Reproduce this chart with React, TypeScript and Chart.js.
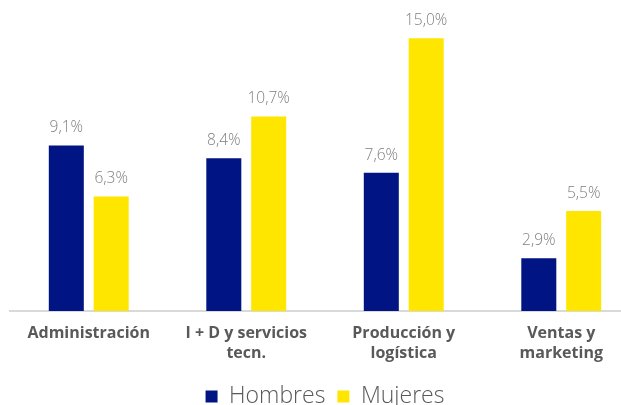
import React, { useEffect, useRef } from "react";
import { Chart, registerables } from "chart.js";

Chart.register(...registerables);

const categories: (string | string[])[] = [
  "Administración",
  ["I + D y servicios", "tecn."],
  ["Producción y", "logística"],
  ["Ventas y", "marketing"],
];
const hombres = [9.1, 8.4, 7.6, 2.9];
const mujeres = [6.3, 10.7, 15.0, 5.5];
const seriesNames = ["Hombres", "Mujeres"];

const FONT = "'Open Sans', 'DejaVu Sans', sans-serif";

const labelPlugin = {
  id: "valueLabels",
  afterDatasetsDraw(chart: any) {
    const ctx = chart.ctx;
    ctx.save();
    ctx.font = `300 15.5px ${FONT}`;
    ctx.fillStyle = "#7f7f7f";
    ctx.textAlign = "center";
    ctx.textBaseline = "bottom";
    chart.data.datasets.forEach((ds: any, i: number) => {
      const meta = chart.getDatasetMeta(i);
      meta.data.forEach((bar: any, j: number) => {
        const v = ds.data[j] as number;
        ctx.fillText(v.toFixed(1).replace(".", ",") + "%", bar.x, bar.y - 10);
      });
    });
    ctx.restore();
  },
};

export default function App() {
  const ref = useRef<HTMLCanvasElement>(null);
  useEffect(() => {
    document.body.style.margin = "0";
    document.body.style.overflow = "hidden";
    const chart = new Chart(ref.current!, {
      type: "bar",
      data: {
        labels: categories,
        datasets: [
          { label: seriesNames[0], data: hombres, backgroundColor: "#001483" },
          { label: seriesNames[1], data: mujeres, backgroundColor: "#FFE600" },
        ],
      },
      options: {
        animation: false,
        responsive: false,
        maintainAspectRatio: false,
        layout: { padding: { top: 2, left: 10, right: 0, bottom: 6 } },
        datasets: {
          bar: { categoryPercentage: 0.57, barPercentage: 0.78 },
        },
        scales: {
          x: {
            grid: { display: false },
            border: { display: true, color: "#d9d9d9", width: 2 },
            afterFit: (scale: any) => {
              scale.height += 6;
            },
            ticks: {
              color: "#595959",
              font: { family: FONT, size: 16, weight: "bold", lineHeight: 1.25 },
              padding: 4,
              maxRotation: 0,
              autoSkip: false,
            },
          },
          y: {
            display: false,
            min: 0,
            max: 17,
          },
        },
        plugins: {
          legend: {
            position: "bottom",
            labels: {
              color: "#595959",
              font: { family: FONT, size: 23, weight: "300" },
              boxWidth: 12,
              boxHeight: 12,
              padding: 12,
            },
          },
          tooltip: { enabled: false },
        },
      },
      plugins: [labelPlugin],
    });
    return () => chart.destroy();
  }, []);
  return (
    <div style={{ width: 621, height: 405, overflow: "hidden", position: "relative" }}>
      <canvas ref={ref} width={640} height={424} style={{ display: "block" }} />
    </div>
  );
}
